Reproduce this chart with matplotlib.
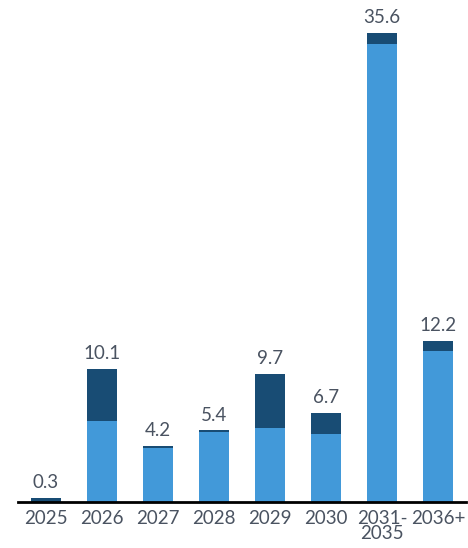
import matplotlib.pyplot as plt
import numpy as np

# data
categories = ['2025', '2026', '2027', '2028', '2029', '2030', '2031-\n2035', '2036+']
light_vals = [0.0, 6.1, 4.05, 5.25, 5.6, 5.1, 34.8, 11.45]
dark_vals = [0.3, 4.0, 0.15, 0.15, 4.1, 1.6, 0.8, 0.75]
totals = ['0.3', '10.1', '4.2', '5.4', '9.7', '6.7', '35.6', '12.2']

light_color = '#4299d9'
dark_color = '#184c74'
text_color = '#4a5361'

plt.rcParams['font.family'] = ['Lato', 'DejaVu Sans']

fig = plt.figure(figsize=(4.68, 5.48), dpi=100)
ax = fig.add_axes([18 / 468, 46.5 / 548, 448 / 468, 500 / 548])

x = np.arange(len(categories))
ax.bar(x, light_vals, width=0.55, color=light_color, linewidth=0)
ax.bar(x, dark_vals, width=0.55, bottom=light_vals, color=dark_color, linewidth=0)

for xi, lv, dv, t in zip(x, light_vals, dark_vals, totals):
    ax.annotate(t, (xi, lv + dv), xytext=(0, 5), textcoords='offset points',
                ha='center', va='bottom', fontsize=13.5, color=text_color)

ax.set_xlim(-0.5, len(categories) - 0.5)
ax.set_ylim(0, 38)
ax.set_xticks(x)
ax.set_xticklabels(categories, fontsize=13.5, color=text_color, linespacing=0.9)
ax.tick_params(axis='x', length=0, pad=6)
ax.set_yticks([])
for s in ['top', 'right', 'left']:
    ax.spines[s].set_visible(False)
ax.spines['bottom'].set_linewidth(2)
ax.spines['bottom'].set_color('black')

fig.savefig('out.png', dpi=100)
